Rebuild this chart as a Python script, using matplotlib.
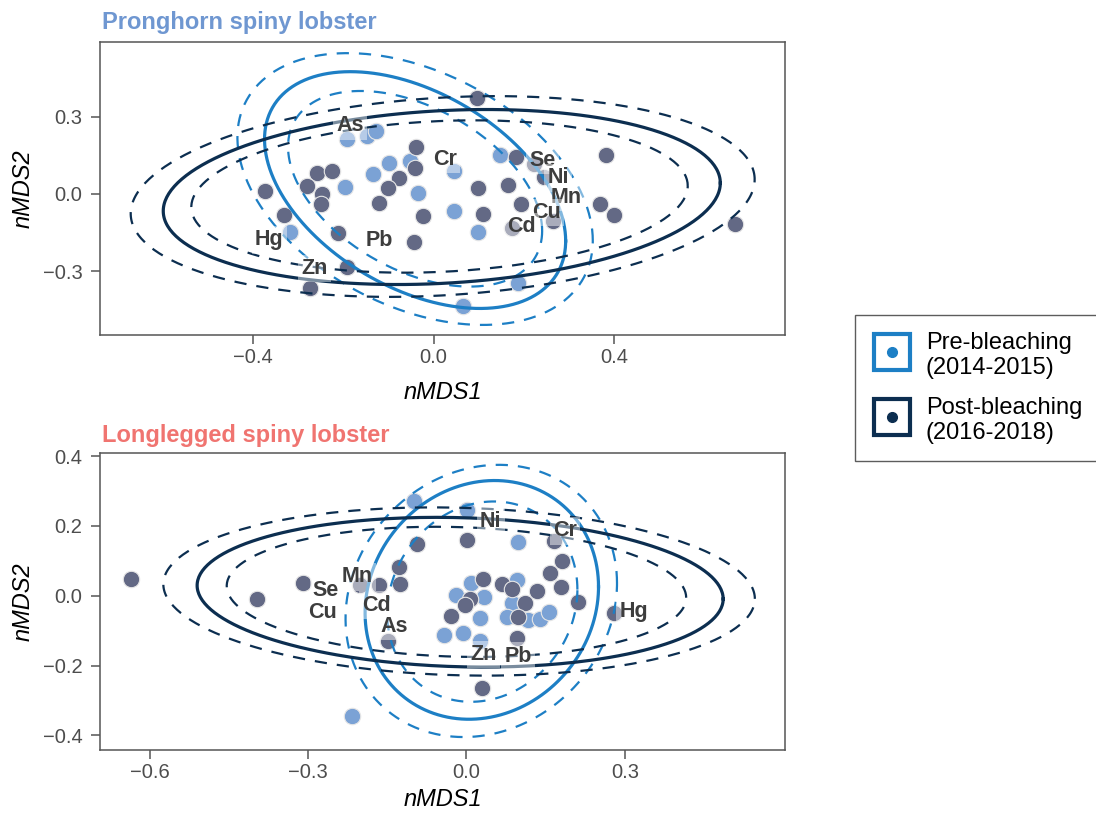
import numpy as np
import matplotlib
matplotlib.use("Agg")
import matplotlib.pyplot as plt
from matplotlib.lines import Line2D
from matplotlib.legend_handler import HandlerTuple

plt.rcParams['font.family'] = ['Liberation Sans', 'DejaVu Sans']

# Colours
pre_point = '#7ba2d5'
post_point = '#636985'
pre_line = '#1d7fc5'
post_line = '#0c2e50'
label_color = '#3d3d3d'
tick_color = '#4d4d4d'

# ---- Pronghorn spiny lobster (top) ----
pron_pre_x = [-0.191, -0.147, -0.128, -0.098, -0.135, -0.195, -0.052, -0.035, -0.318,
              0.044, 0.147, 0.046, 0.098, 0.187, 0.065]
pron_pre_y = [0.213, 0.225, 0.244, 0.122, 0.077, 0.025, 0.129, 0.003, -0.146,
              0.091, 0.151, -0.065, -0.147, -0.346, -0.435]
pron_post_x = [-0.039, -0.041, -0.076, -0.100, -0.120, -0.258, -0.225, -0.280, -0.248,
               -0.250, -0.374, -0.331, -0.211, -0.024, -0.044, -0.191, -0.274,
               0.095, 0.183, 0.221, 0.243, 0.098, 0.165, 0.194, 0.110, 0.265,
               0.173, 0.381, 0.368, 0.398, 0.667]
pron_post_y = [0.181, 0.102, 0.063, 0.022, -0.036, 0.080, 0.089, 0.031, -0.001,
               -0.041, 0.013, -0.080, -0.153, -0.084, -0.185, -0.282, -0.367,
               0.373, 0.143, 0.117, 0.066, 0.023, 0.036, -0.039, -0.079, -0.104,
               -0.134, 0.150, -0.039, -0.082, -0.118]
pron_labels = ['As', 'Hg', 'Pb', 'Zn', 'Cr', 'Se', 'Ni', 'Mn', 'Cu', 'Cd']
pron_label_x = [-0.185, -0.364, -0.120, -0.263, 0.025, 0.240, 0.275, 0.294, 0.249, 0.194]
pron_label_y = [0.264, -0.179, -0.181, -0.289, 0.134, 0.130, 0.062, -0.014, -0.072, -0.128]
# ellipses: centre x, centre y, half x-extent, half y-extent, correlation
pron_pre_ell = [(-0.041, 0.015, 0.333, 0.460, -0.43),
                (-0.041, 0.020, 0.281, 0.380, -0.43),
                (-0.041, 0.019, 0.393, 0.528, -0.38)]
pron_post_ell = [(0.018, -0.012, 0.616, 0.340, 0.16),
                 (0.013, -0.010, 0.549, 0.296, 0.14),
                 (0.020, -0.010, 0.690, 0.390, 0.17)]

# ---- Longlegged spiny lobster (bottom) ----
long_pre_x = [-0.100, -0.217, 0.001, 0.098, 0.008, -0.019, 0.033, 0.096, 0.087, 0.026,
              0.077, 0.117, 0.140, 0.156, -0.042, -0.007, 0.026]
long_pre_y = [0.272, -0.344, 0.246, 0.155, 0.037, 0.002, -0.003, 0.045, -0.022, -0.065,
              -0.060, -0.070, -0.067, -0.048, -0.113, -0.106, -0.129]
long_post_x = [-0.635, -0.397, -0.309, -0.201, -0.165, -0.127, -0.125, -0.094, -0.148,
               0.001, 0.166, 0.180, 0.159, 0.179, 0.032, 0.068, 0.086, 0.134, 0.006,
               -0.002, -0.029, 0.110, 0.098, 0.212, 0.279, 0.096, 0.030]
long_post_y = [0.047, -0.009, 0.036, 0.031, 0.031, 0.083, 0.034, 0.147, -0.130,
               0.160, 0.157, 0.100, 0.064, 0.024, 0.048, 0.033, 0.018, 0.013, -0.010,
               -0.027, -0.057, -0.022, -0.060, -0.019, -0.050, -0.122, -0.265]
long_labels = ['Ni', 'Cr', 'Hg', 'Zn', 'Pb', 'Se', 'Cu', 'Mn', 'Cd', 'As']
long_label_x = [0.046, 0.186, 0.317, 0.033, 0.098, -0.266, -0.272, -0.207, -0.171, -0.137]
long_label_y = [0.214, 0.186, -0.044, -0.168, -0.173, 0.014, -0.049, 0.054, -0.027, -0.087]
long_pre_ell = [(0.029, -0.012, 0.221, 0.342, 0.11),
                (0.030, -0.017, 0.180, 0.287, 0.12),
                (0.028, -0.015, 0.257, 0.390, 0.13)]
long_post_ell = [(-0.012, 0.010, 0.498, 0.2145, -0.09),
                 (-0.019, 0.011, 0.435, 0.1865, -0.09),
                 (-0.014, 0.012, 0.560, 0.241, -0.087)]


def ellipse_xy(cx, cy, ax_half, ay_half, corr, n=300):
    t = np.linspace(0, 2 * np.pi, n)
    delta = np.arccos(corr)
    return cx + ax_half * np.cos(t), cy + ay_half * np.cos(t - delta)


def draw_panel(ax, pre_x, pre_y, post_x, post_y, pre_ell, post_ell,
               labels, lab_x, lab_y, xlabel_pad):
    ax.scatter(pre_x, pre_y, s=140, color=pre_point, edgecolor='#e6e6e6',
               linewidth=0.8, zorder=2)
    ax.scatter(post_x, post_y, s=140, color=post_point, edgecolor='#e6e6e6',
               linewidth=0.8, zorder=2)
    for ells, col in [(pre_ell, pre_line), (post_ell, post_line)]:
        for i, e in enumerate(ells):
            ex, ey = ellipse_xy(*e)
            if i == 0:
                ax.plot(ex, ey, color=col, lw=2.3, zorder=3)
            else:
                ax.plot(ex, ey, color=col, lw=1.6, dashes=(5.5, 4.5), zorder=3)
    for lab, x, y in zip(labels, lab_x, lab_y):
        ax.text(x, y, lab, ha='center', va='center', fontsize=15.5,
                fontweight='bold', color=label_color, zorder=4,
                bbox=dict(boxstyle='square,pad=0.15', fc='white', ec='none',
                          alpha=0.45))
    for sp in ax.spines.values():
        sp.set_color('#555555')
        sp.set_linewidth(1.1)
    ax.tick_params(colors='#555555', labelcolor=tick_color, labelsize=14.5,
                   length=6.5, width=1.1)
    ax.tick_params(axis='x', pad=3)
    ax.tick_params(axis='y', pad=6)
    ax.set_xlabel('nMDS1', fontsize=17, style='italic', color='black',
                  labelpad=xlabel_pad)
    ax.set_ylabel('nMDS2', fontsize=17, style='italic', color='black', labelpad=6)


fig = plt.figure(figsize=(10.96, 8.15), dpi=100)
ax_top = fig.add_axes([0.0912, 0.589, 0.625, 0.360])
ax_bot = fig.add_axes([0.0912, 0.0798, 0.625, 0.364])

draw_panel(ax_top, pron_pre_x, pron_pre_y, pron_post_x, pron_post_y,
           pron_pre_ell, pron_post_ell, pron_labels, pron_label_x, pron_label_y, 10)
ax_top.set_xlim(-0.738, 0.777)
ax_top.set_ylim(-0.548, 0.592)
ax_top.set_xticks([-0.4, 0.0, 0.4], ['\u22120.4', '0.0', '0.4'])
ax_top.set_yticks([-0.3, 0.0, 0.3], ['\u22120.3', '0.0', '0.3'])
ax_top.set_title('Pronghorn spiny lobster', loc='left', fontsize=17,
                 fontweight='bold', color='#6f97d1', pad=9, x=0.003)

draw_panel(ax_bot, long_pre_x, long_pre_y, long_post_x, long_post_y,
           long_pre_ell, long_post_ell, long_labels, long_label_x, long_label_y, 4)
ax_bot.set_xlim(-0.694, 0.603)
ax_bot.set_ylim(-0.442, 0.408)
ax_bot.set_xticks([-0.6, -0.3, 0.0, 0.3], ['\u22120.6', '\u22120.3', '0.0', '0.3'])
ax_bot.set_yticks([-0.4, -0.2, 0.0, 0.2, 0.4],
                  ['\u22120.4', '\u22120.2', '0.0', '0.2', '0.4'])
ax_bot.set_title('Longlegged spiny lobster', loc='left', fontsize=17,
                 fontweight='bold', color='#f07470', pad=8, x=0.003)

# Legend
handles = []
for col in [pre_line, post_line]:
    sq = Line2D([], [], marker='s', markersize=26, markerfacecolor='white',
                markeredgecolor=col, markeredgewidth=3, linestyle='none')
    dot = Line2D([], [], marker='o', markersize=7, color=col, linestyle='none')
    handles.append((sq, dot))
leg = fig.legend(handles, ['Pre-bleaching\n(2014-2015)', 'Post-bleaching\n(2016-2018)'],
                 handler_map={tuple: HandlerTuple(ndivide=1, pad=0)},
                 loc='upper left', bbox_to_anchor=(855 / 1096, 1 - 315 / 815),
                 fontsize=17, frameon=True, fancybox=False, edgecolor='#333333',
                 handlelength=1.7, handleheight=1.7, labelspacing=0.75,
                 borderpad=0.7, handletextpad=0.6, borderaxespad=0)
leg.get_frame().set_linewidth(1.0)

fig.savefig('out.png', dpi=100)
